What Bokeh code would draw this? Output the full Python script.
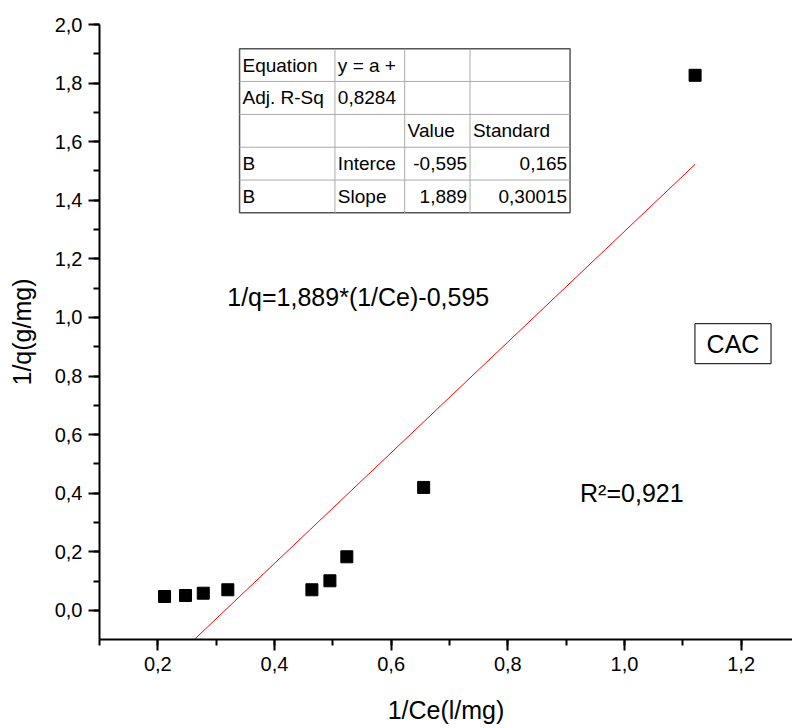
from bokeh.plotting import figure
from bokeh.models import (SingleIntervalTicker, CustomJSTickFormatter, Label,
                          ColumnDataSource, Range1d)
from bokeh.core.properties import value
from bokeh.embed import file_html
from bokeh.resources import INLINE

# ---------------- data ----------------
inv_ce = [0.2115, 0.2475, 0.2779, 0.3200, 0.4641, 0.4950, 0.5240, 0.6557, 1.1210]
inv_q = [0.0478, 0.0512, 0.0590, 0.0707, 0.0707, 0.1014, 0.1833, 0.4200, 1.8266]
intercept = -0.595
slope = 1.889

table_rows = [
    ["Equation", "y = a +", "", ""],
    ["Adj. R-Sq", "0,8284", "", ""],
    ["", "", "Value", "Standard"],
    ["B", "Interce", "-0,595", "0,165"],
    ["B", "Slope", "1,889", "0,30015"],
]
equation_text = "1/q=1,889*(1/Ce)-0,595"
r2_text = "R\u00b2=0,921"
series_name = "CAC"

# ---------------- layout constants ----------------
FONT = "Liberation Sans"
x_start, x_end = 0.1, 1.288
y_start, y_end = -0.099, 2.0

p = figure(width=792, height=728, output_backend="svg", toolbar_location=None,
           x_range=Range1d(x_start, x_end), y_range=Range1d(y_start, y_end),
           min_border_left=99, min_border_right=0, min_border_top=24,
           min_border_bottom=89)
p.outline_line_color = None
p.xgrid.visible = False
p.ygrid.visible = False
p.background_fill_color = "white"
p.border_fill_color = "white"

fmt = CustomJSTickFormatter(code="return tick.toFixed(1).replace('.', ',');")
for ax, ticker in ((p.xaxis[0], SingleIntervalTicker(interval=0.2, num_minor_ticks=2)),
                   (p.yaxis[0], SingleIntervalTicker(interval=0.2, num_minor_ticks=2))):
    ax.ticker = ticker
    ax.formatter = fmt
    ax.axis_line_color = "black"
    ax.axis_line_width = 2
    ax.major_tick_line_color = "black"
    ax.major_tick_line_width = 2
    ax.minor_tick_line_color = "black"
    ax.minor_tick_line_width = 2
    ax.major_tick_out = 11
    ax.major_tick_in = 0
    ax.minor_tick_out = 6
    ax.minor_tick_in = 0
    ax.major_label_text_font = FONT
    ax.major_label_text_font_size = "20px"
    ax.major_label_text_color = "black"
    ax.axis_label_text_font = FONT
    ax.axis_label_text_font_size = "25px"
    ax.axis_label_text_font_style = "normal"
    ax.axis_label_text_color = "black"

p.xaxis.axis_label = "1/Ce(l/mg)"
p.yaxis.axis_label = "1/q(g/mg)"
p.xaxis.major_label_standoff = 6
p.yaxis.major_label_standoff = 6
p.xaxis.axis_label_standoff = 22
p.yaxis.axis_label_standoff = 16

# fitted line over data range (clipped by frame)
lx = [min(inv_ce), max(inv_ce)]
ly = [intercept + slope * v for v in lx]
p.line(lx, ly, line_color="red", line_width=1)

p.scatter(inv_ce, inv_q, marker="square", size=12, fill_color="black",
          line_color="black")

# ---------------- table ----------------
col_edges = [0.3401, 0.5036, 0.6232, 0.7352, 0.9067]
row_edges = [1.917, 1.8057, 1.6931, 1.5811, 1.4691, 1.3571]
pad = 0.005

p.quad(left=[col_edges[0]], right=[col_edges[-1]], top=[row_edges[0]],
       bottom=[row_edges[-1]], fill_color="white", line_color="#555555",
       line_width=1.5)
# inner lines
x0s, y0s, x1s, y1s = [], [], [], []
for c in col_edges[1:-1]:
    x0s.append(c); x1s.append(c); y0s.append(row_edges[0]); y1s.append(row_edges[-1])
for r in row_edges[1:-1]:
    x0s.append(col_edges[0]); x1s.append(col_edges[-1]); y0s.append(r); y1s.append(r)
p.segment(x0s, y0s, x1s, y1s, line_color="#aaaaaa", line_width=1)

tx, ty, tt, ta = [], [], [], []
for i, row in enumerate(table_rows):
    yc = (row_edges[i] + row_edges[i + 1]) / 2
    for j, cell in enumerate(row):
        if not cell:
            continue
        right_align = (i >= 3 and j >= 2)
        if right_align:
            tx.append(col_edges[j + 1] - pad)
            ta.append("right")
        else:
            tx.append(col_edges[j] + pad)
            ta.append("left")
        ty.append(yc)
        tt.append(cell)
src = ColumnDataSource(dict(x=tx, y=ty, text=tt, align=ta))
p.text(x="x", y="y", text="text", text_align="align", source=src,
       text_baseline="middle", text_font=value(FONT), text_font_size="19px",
       text_color="black")

# ---------------- annotations ----------------
p.add_layout(Label(x=0.319, y=1.0697, text=equation_text, text_font=FONT,
                   text_font_size="25px", text_baseline="middle",
                   text_color="black"))
p.add_layout(Label(x=0.9238, y=0.3995, text=r2_text, text_font=FONT,
                   text_font_size="25px", text_baseline="middle",
                   text_color="black"))
p.quad(left=[1.1208], right=[1.2512], top=[0.9789], bottom=[0.8423],
       fill_color="white", line_color="black", line_width=1)
p.add_layout(Label(x=1.186, y=0.9106, text=series_name, text_font=FONT,
                   text_font_size="25px", text_baseline="middle",
                   text_align="center", text_color="black"))

open("out.html", "w").write(file_html(p, INLINE))
